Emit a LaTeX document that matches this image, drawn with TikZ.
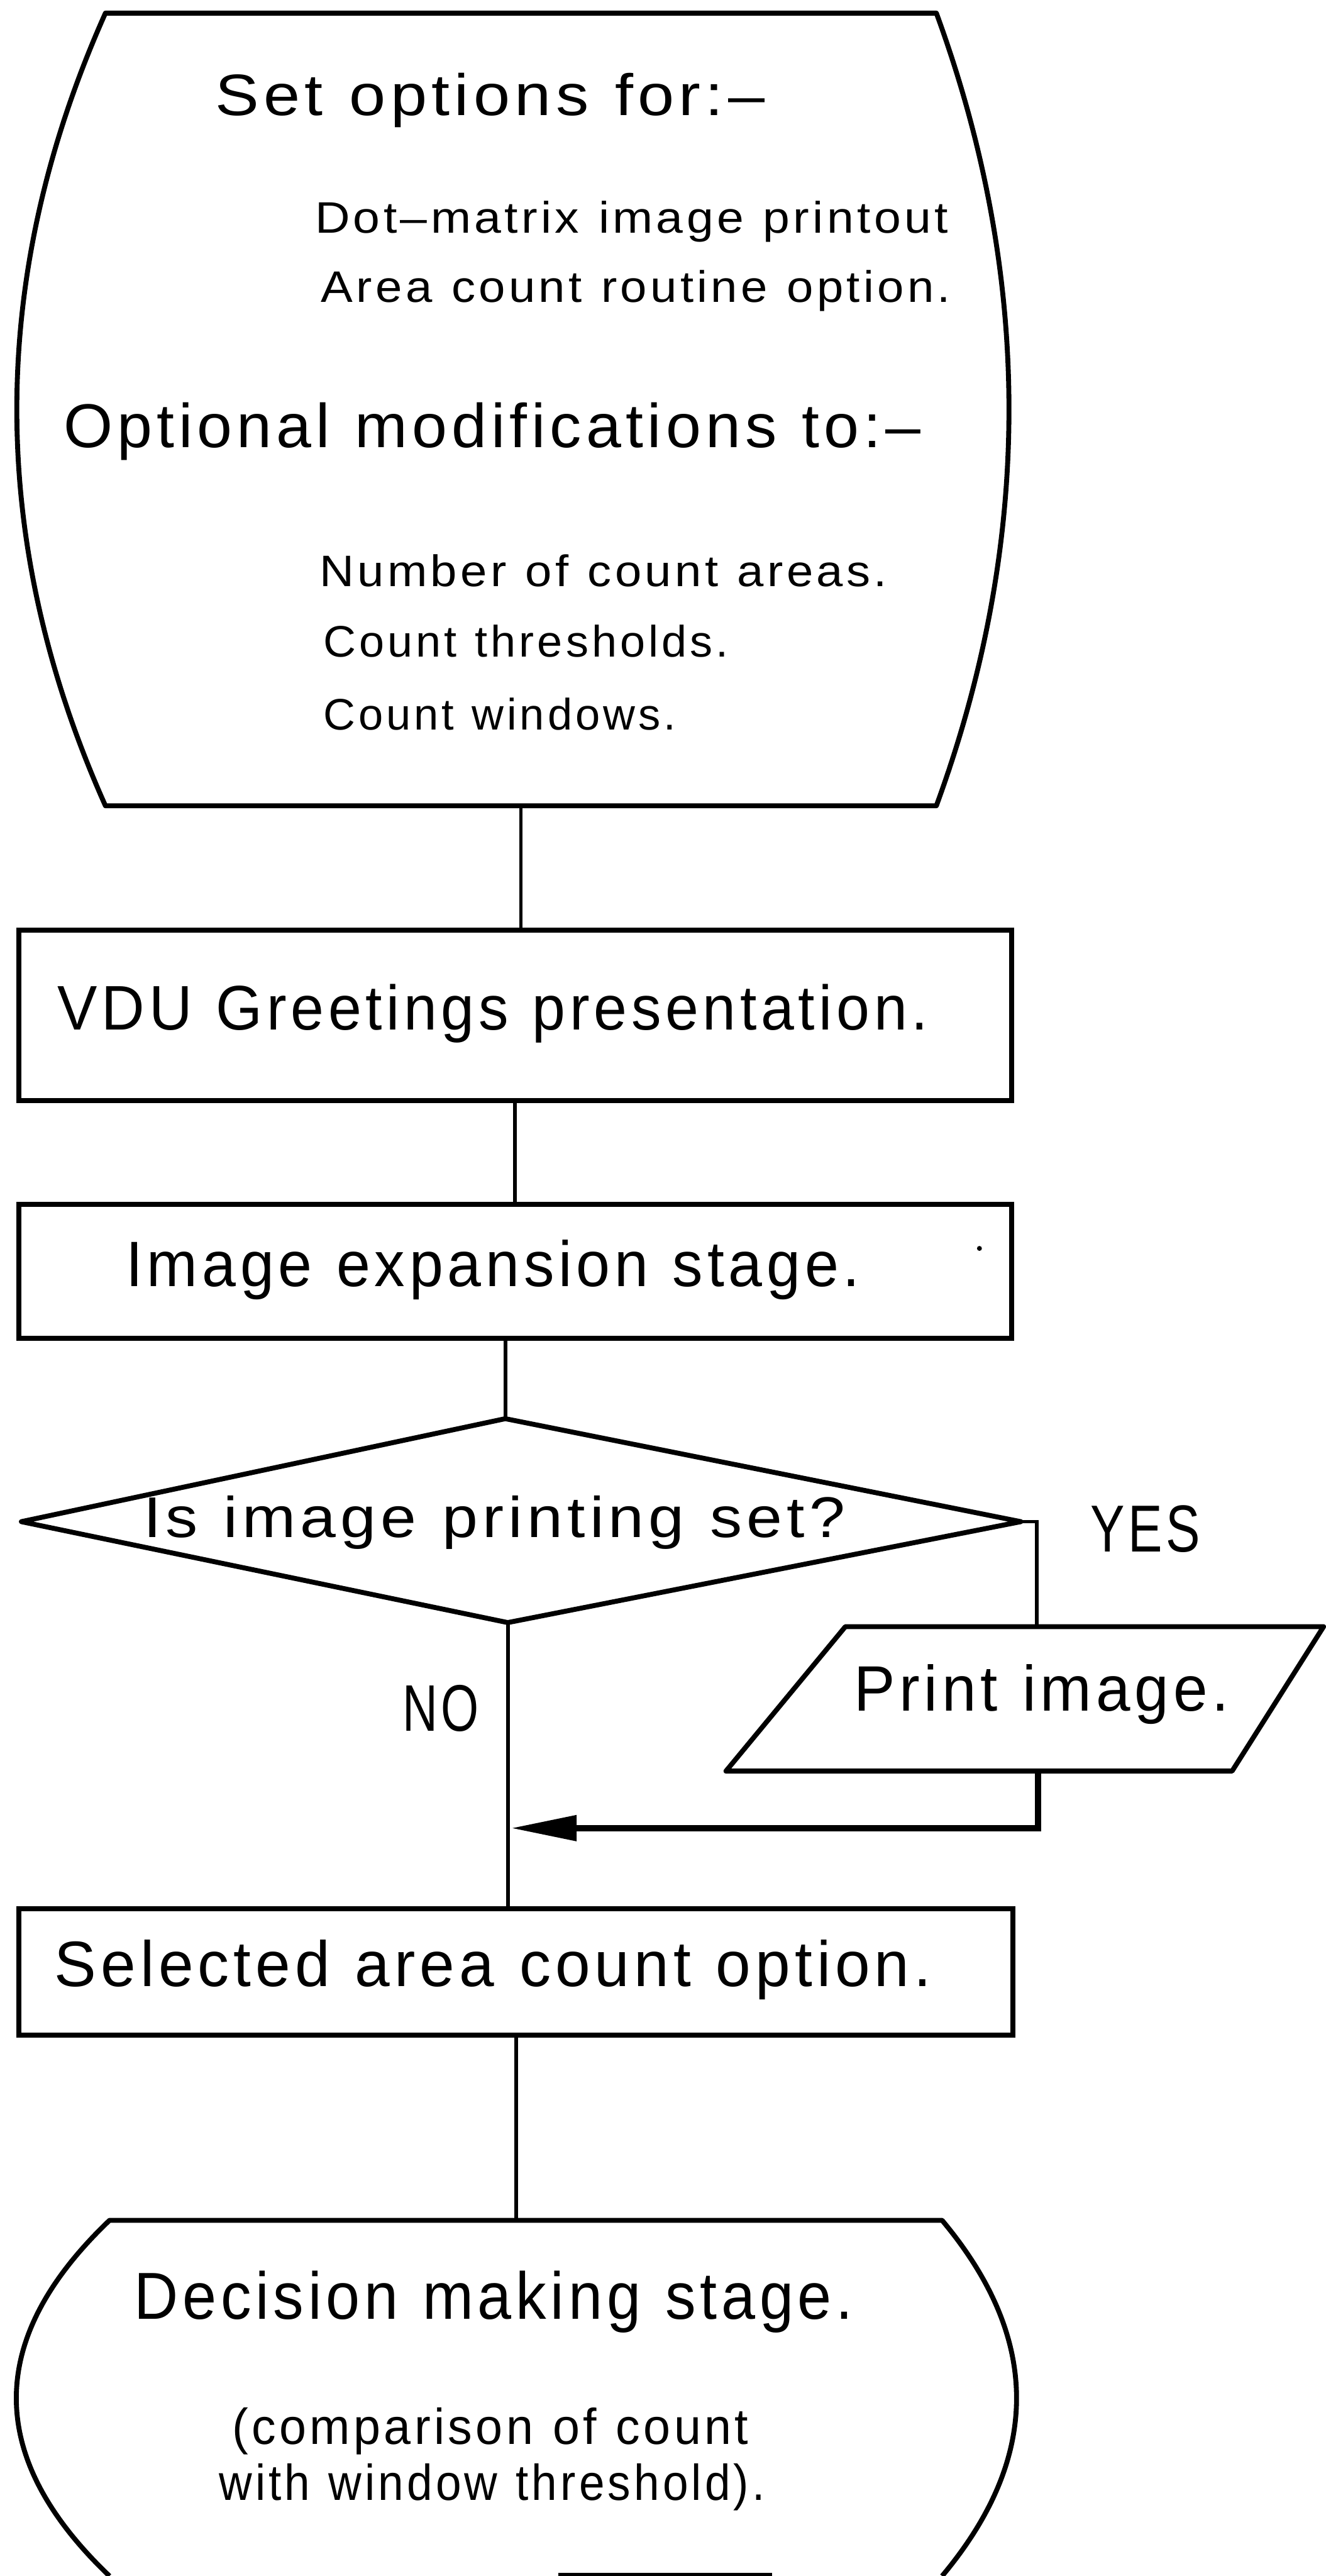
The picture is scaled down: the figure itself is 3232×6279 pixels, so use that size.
\documentclass[tikz,border=0pt]{standalone}
\usepackage{fontspec}
\setmainfont{Liberation Sans}[LetterSpace=7]
\usepackage{graphicx}
\usetikzlibrary{calc,arrows.meta}
\newcommand{\fx}[3]{\resizebox{#1}{\height}{\fontsize{#2}{#2}\selectfont\spaceskip=0.4em\relax #3}}
\begin{document}
\begin{tikzpicture}[x=0.1mm,y=-0.1mm,
  outline/.style={line width=1.2mm, line join=round},
  conn/.style={line width=0.9mm},
  arrowline/.style={line width=1.5mm, -{Triangle[length=16mm,width=6mm]}},
  frame/.style={draw=none, inner sep=0pt, outer sep=0pt},
  boxnode/.style={draw, line width=1.2mm, inner sep=0pt, outer sep=0pt},
  txt/.style={anchor=base west, inner sep=0pt, outer sep=0pt}]
\useasboundingbox (0,0) rectangle (3232,6279);

% ---------- top barrel (options) ----------
\node[frame, minimum width=202.6mm, minimum height=193.2mm] (opts) at (1270,998) {};
\draw[outline] (opts.north west) -- (opts.north east)
  .. controls ($(opts.north east)+(236,644)$) and ($(opts.south east)+(236,-644)$) .. (opts.south east)
  -- (opts.south west)
  .. controls ($(opts.south west)+(-288,-644)$) and ($(opts.north west)+(-288,644)$) .. (opts.north west) -- cycle;
\node[txt] (t1) at (525,281) {\fx{134mm}{14.25mm}{Set options for:–}};
\node[txt] (t2) at (768,568) {\fx{154.4mm}{10.75mm}{Dot–matrix image printout}};
\node[txt] (t3) at (783,737) {\fx{153.5mm}{10.75mm}{Area count routine option.}};
\node[txt] (t4) at (155,1091) {\fx{209mm}{15.1mm}{Optional modifications to:–}};
\node[txt] (t5) at (779,1429) {\fx{138.4mm}{10.75mm}{Number of count areas.}};
\node[txt] (t6) at (789,1601) {\fx{98.7mm}{10.75mm}{Count thresholds.}};
\node[txt] (t7) at (789,1779) {\fx{85.9mm}{10.75mm}{Count windows.}};

% ---------- VDU box ----------
\node[boxnode, minimum width=242mm, minimum height=41.6mm] (vdu) at (1256,2475) {};
\node[txt] (tvdu) at (141,2510) {\fx{212.2mm}{15.35mm}{VDU Greetings presentation.}};

% ---------- image expansion box ----------
\node[boxnode, minimum width=242mm, minimum height=32.6mm] (imgexp) at (1256,3099) {};
\node[txt] (timg) at (307,3135) {\fx{179mm}{15.65mm}{Image expansion stage.}};
\fill (2388,3043) circle (6);

% ---------- decision diamond ----------
\coordinate (dtop) at (1232,3458);
\coordinate (dright) at (2489,3709);
\coordinate (dbot) at (1238,3955);
\coordinate (dleft) at (52,3709);
\draw[outline] (dtop) -- (dright) -- (dbot) -- (dleft) -- cycle;
\node[txt] (tdia) at (350,3747) {\fx{171.1mm}{14mm}{Is image printing set?}};
\node[txt] (tyes) at (2659,3783) {\fx{26.8mm}{16.2mm}{YES}};
\node[txt] (tno) at (982,4220) {\fx{18.6mm}{16.05mm}{NO}};

% ---------- print parallelogram ----------
\coordinate (ptl) at (2061,3965);
\coordinate (ptr) at (3227,3965);
\coordinate (pbr) at (3004,4317);
\coordinate (pbl) at (1770,4317);
\draw[outline] (ptl) -- (ptr) -- (pbr) -- (pbl) -- cycle;
\coordinate (pin) at (2528,3965);
\coordinate (pout) at (2531,4317);
\node[txt] (tprint) at (2082,4170) {\fx{91.5mm}{15.65mm}{Print image.}};

% ---------- selected box ----------
\node[boxnode, minimum width=242.4mm, minimum height=30.8mm] (sel) at (1258,4807) {};
\node[txt] (tsel) at (133,4842) {\fx{213.8mm}{15.65mm}{Selected area count option.}};

% ---------- bottom barrel (decision making) ----------
\node[frame, minimum width=203mm, minimum height=86.7mm] (dec) at (1282,5845.5) {};
\draw[outline] (dec.south west)
  .. controls ($(dec.south west)+(-303,-289)$) and ($(dec.north west)+(-303,289)$) .. (dec.north west)
  -- (dec.north east)
  .. controls ($(dec.north east)+(242,289)$) and ($(dec.south east)+(242,-289)$) .. (dec.south east);
\draw[conn] ($(dec.south west)+(1095,-4)$) -- ($(dec.south west)+(1615,-4)$);
\node[txt] (tdec) at (327,5652) {\fx{175.3mm}{16.2mm}{Decision making stage.}};
\node[txt] (tc1) at (566,5958) {\fx{125.9mm}{12.3mm}{(comparison of count}};
\node[txt] (tc2) at (534,6094) {\fx{133.1mm}{12.3mm}{with window threshold).}};

% ---------- connectors ----------
\coordinate (merge) at (1246,4456);
\draw[conn] (opts.south) -- (opts.south |- vdu.north);
\draw[conn] (vdu.south) -- (vdu.south |- imgexp.north);
\draw[conn] (dtop |- imgexp.south) -- (dtop);
\draw[conn] (dbot) -- (dbot |- sel.north);
\draw[conn] (dright) -| (pin);
\draw[arrowline] (pout) |- (merge);
\draw[conn] (sel.south) -- (sel.south |- dec.north);
\end{tikzpicture}
\end{document}
